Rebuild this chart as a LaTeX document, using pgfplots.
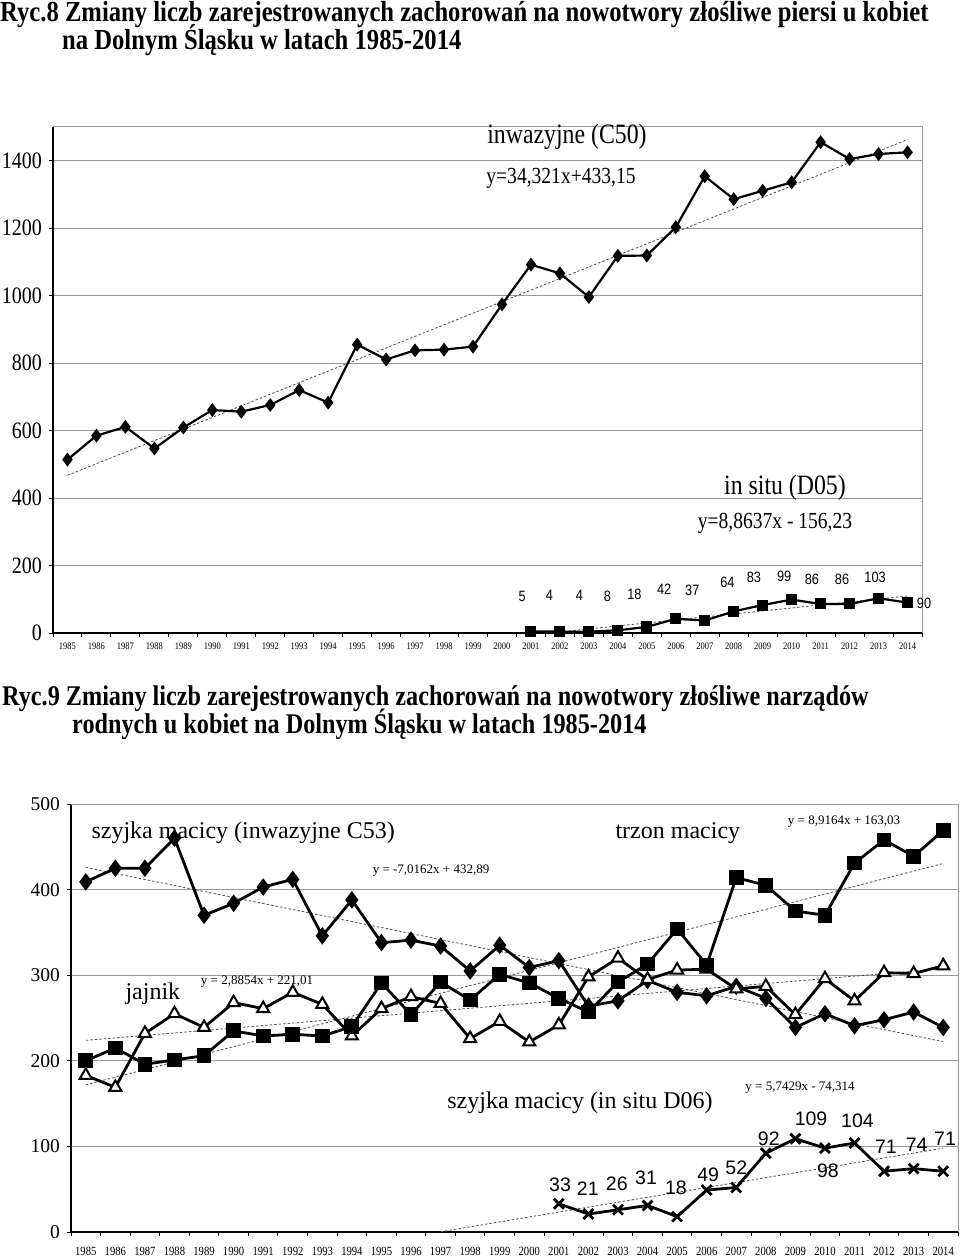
\documentclass[border=0pt]{standalone}
\usepackage{fontspec}
\setmainfont{Liberation Serif}
\newfontfamily\nserif[FakeStretch=0.85]{Liberation Serif}
\newfontfamily\tserif[FakeStretch=0.85]{Liberation Serif}
\newfontfamily\nsans[FakeStretch=0.85]{Liberation Sans}
\newfontfamily\sans{Liberation Sans}
\usepackage{pgfplots}
\pgfplotsset{compat=1.18}

\newcommand{\fs}[1]{\fontsize{#1}{#1}\selectfont}

\pgfplotsset{
  ryc/.style={
    scale only axis, anchor=south west, clip=false,
    xmin=-0.5, xmax=29.5, ymin=0,
    axis lines=left, axis line style={-, black, line width=1.2pt},
    xtick={0,...,29},
    xticklabel={\pgfmathparse{int(1985+\tick)}\pgfmathresult},
    minor xtick={-0.5,0.5,...,29.5},
    major tick length=0pt, minor tick length=4pt,
    tick align=outside,
    tick style={black, line width=1pt},
    ymajorgrids, grid style={gray!80, line width=1pt},
    /pgf/number format/1000 sep={},
    /pgf/number format/assume math mode=true,
  },
  trend/.style={mark=none, gray!60!black, line width=0.8pt, dash pattern=on 2.5pt off 2pt},
  lab/.style={draw=none, mark=none, nodes near coords, point meta=explicit symbolic},
}

\begin{document}
\begin{tikzpicture}
\path[use as bounding box] (0,0) rectangle (960pt,-1257pt);

% ---- titles
\node[anchor=base west, inner sep=0pt, font=\tserif\bfseries\fs{29}] at (0pt,-21.5pt)
  {Ryc.8 Zmiany liczb zarejestrowanych zachorowań na nowotwory złośliwe piersi u kobiet};
\node[anchor=base west, inner sep=0pt, font=\tserif\bfseries\fs{29}] at (62pt,-50pt)
  {na Dolnym Śląsku w latach 1985-2014};
\node[anchor=base west, inner sep=0pt, font=\tserif\bfseries\fs{28.5}] at (2pt,-705pt)
  {Ryc.9 Zmiany liczb zarejestrowanych zachorowań na nowotwory złośliwe narządów};
\node[anchor=base west, inner sep=0pt, font=\tserif\bfseries\fs{28.5}] at (72pt,-733pt)
  {rodnych u kobiet na Dolnym Śląsku w latach 1985-2014};

% ---- Ryc.8: piers
\begin{axis}[ryc, at={(53pt,-633pt)}, width=869pt, height=506pt, ymax=1500,
  ytick={0,200,...,1400}, minor ytick={0,200,...,1400},
  yticklabel style={font=\nserif\fs{23.5}, inner sep=0pt, xshift=-11pt},
  xticklabel style={font=\nserif\fs{10}, inner sep=0pt, anchor=base, yshift=-16.5pt},
]
\addplot[trend] coordinates {(0,467.47) (29,1462.78)};
\addplot[trend] coordinates {(17,3.32) (29,109.68)};
% inwazyjne C50
\addplot[black, line width=2.2pt, mark=diamond*, mark size=5.2pt] coordinates {
 (0,514) (1,585) (2,611) (3,547) (4,609) (5,661) (6,656) (7,676) (8,720) (9,683)
 (10,855) (11,811) (12,838) (13,840) (14,849) (15,974) (16,1092) (17,1066) (18,996) (19,1118)
 (20,1119) (21,1203) (22,1354) (23,1286) (24,1311) (25,1336) (26,1455) (27,1405) (28,1420) (29,1425)};
% in situ D05
\addplot[black, line width=2.2pt, mark=square*, mark size=4.4pt] coordinates {
 (16,5) (17,4) (18,4) (19,8) (20,18) (21,42) (22,37) (23,64) (24,83) (25,99)
 (26,86) (27,86) (28,103) (29,90)};
\addplot[lab, every node near coord/.append style={font=\nsans\fs{15}, inner sep=0pt}] coordinates {
 (15.7,91)[5] (16.64,97)[4] (17.67,97)[4] (18.64,91)[8] (19.57,97)[18] (20.6,115)[42]
 (21.57,109)[37] (22.78,133)[64] (23.7,148)[83] (24.74,151)[99] (25.7,142)[86]
 (26.74,142)[86] (27.88,148)[103] (29.57,73)[90]};
\draw[gray!80, line width=1pt] (rel axis cs:0,1) -- (rel axis cs:1,1) -- (rel axis cs:1,0);
\end{axis}

\node[font=\nserif\fs{28}] at (567pt,-137pt) {inwazyjne (C50)};
\node[font=\nserif\fs{23}] at (561pt,-178pt) {y=34,321x+433,15};
\node[font=\nserif\fs{28}] at (785pt,-488pt) {in situ (D05)};
\node[font=\nserif\fs{23}] at (775pt,-523pt) {y=8,8637x - 156,23};

% ---- Ryc.9: narzady rodne
\begin{axis}[ryc, at={(71pt,-1232pt)}, width=887pt, height=428pt, ymax=500,
  ytick={0,100,...,500}, minor ytick={0,100,...,500},
  yticklabel style={font=\fs{19.5}, inner sep=0pt, xshift=-11pt},
  xticklabel style={font=\nserif\fs{12.5}, inner sep=0pt, anchor=base, yshift=-23pt},
]
\addplot[trend] coordinates {(0,425.87) (29,222.40)};
\addplot[trend] coordinates {(0,171.95) (29,430.52)};
\addplot[trend] coordinates {(0,223.90) (29,307.57)};
\addplot[trend] coordinates {(12,0.34) (29,97.97)};
% szyjka macicy inwazyjne C53
\addplot[black, line width=2.8pt, mark=diamond*, mark size=6.5pt] coordinates {
 (0,409) (1,425) (2,425) (3,460) (4,370) (5,384) (6,403) (7,412) (8,346) (9,388)
 (10,338) (11,341) (12,334) (13,305) (14,335) (15,309) (16,317) (17,264) (18,270) (19,294)
 (20,280) (21,276) (22,287) (23,273) (24,239) (25,255) (26,241) (27,248) (28,257) (29,239)};
% jajnik
\addplot[black, line width=2.8pt, mark=triangle*, mark size=7pt, mark options={fill=white, line width=2pt}] coordinates {
 (0,183) (1,169) (2,232) (3,255) (4,239) (5,268) (6,261) (7,280) (8,266) (9,229)
 (10,261) (11,275) (12,267) (13,226) (14,246) (15,222) (16,242) (17,298) (18,320) (19,295)
 (20,306) (21,307) (22,284) (23,287) (24,254) (25,296) (26,270) (27,303) (28,302) (29,311)};
% trzon macicy
\addplot[black, line width=2.8pt, mark=square*, mark size=6pt] coordinates {
 (0,200) (1,215) (2,196) (3,201) (4,206) (5,235) (6,229) (7,231) (8,229) (9,240)
 (10,291) (11,254) (12,292) (13,271) (14,301) (15,291) (16,273) (17,257) (18,292) (19,313)
 (20,354) (21,312) (22,414) (23,405) (24,375) (25,370) (26,431) (27,458) (28,439) (29,469)};
% szyjka macicy in situ D06
\addplot[black, line width=2.8pt, mark=x, mark size=7pt] coordinates {
 (16,33) (17,21) (18,26) (19,31) (20,18) (21,49) (22,52) (23,92) (24,109) (25,98)
 (26,104) (27,71) (28,74) (29,71)};
\addplot[lab, every node near coord/.append style={font=\sans\fs{19.5}, inner sep=0pt}] coordinates {
 (16.04,47.3)[33] (16.98,42.6)[21] (17.96,48.4)[26] (18.95,55.4)[31] (19.96,43.8)[18]
 (21.05,58.9)[49] (22.0,67.1)[52] (23.1,100.9)[92] (24.53,124.3)[109] (25.1,63.6)[98]
 (26.1,121.9)[104] (27.06,91.6)[71] (28.1,93.9)[74] (29.06,100.9)[71]};
\draw[gray!80, line width=1pt] (rel axis cs:0,1) -- (rel axis cs:1,1) -- (rel axis cs:1,0);
\end{axis}

\node[font=\fs{24}, anchor=west] at (88pt,-833pt) {szyjka macicy (inwazyjne C53)};
\node[font=\fs{24}, anchor=west] at (612pt,-833pt) {trzon macicy};
\node[font=\fs{13}] at (844pt,-822pt) {y = 8,9164x + 163,03};
\node[font=\fs{13}] at (431pt,-871pt) {y = -7,0162x + 432,89};
\node[font=\fs{24}, anchor=west] at (122pt,-994pt) {jajnik};
\node[font=\fs{13}] at (257pt,-982pt) {y = 2,8854x + 221,01};
\node[font=\fs{24}] at (580pt,-1103pt) {szyjka macicy (in situ D06)};
\node[font=\fs{13}] at (800pt,-1088pt) {y = 5,7429x - 74,314};
\end{tikzpicture}
\end{document}
